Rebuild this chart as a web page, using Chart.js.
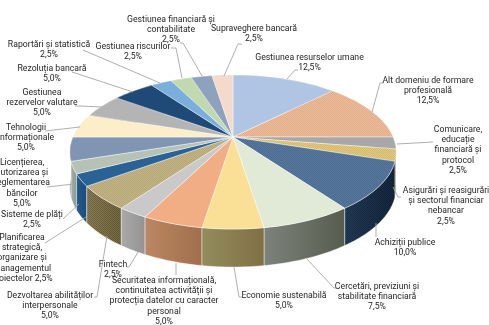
<!DOCTYPE html>
<html><head><meta charset="utf-8">
<style>html,body{margin:0;padding:0;background:#fff}canvas{display:block}</style>
<script src="https://cdn.jsdelivr.net/npm/chart.js@4"></script>
</head><body><canvas id="c" width="489" height="325"></canvas>
<script>
const categories=["Gestiunea resurselor umane","Alt domeniu de formare profesională","Comunicare, educație financiară și protocol","Asigurări și reasigurări și sectorul financiar nebancar","Achiziții publice","Cercetări, previziuni și stabilitate financiară","Economie sustenabilă","Securitatea informațională, continuitatea activității și protecția datelor cu caracter personal","Fintech","Dezvoltarea abilităților interpersonale","Planificarea strategică, organizare și managementul proiectelor","Sisteme de plăți","Licențierea, autorizarea și reglementarea băncilor","Tehnologii informaționale","Gestiunea rezervelor valutare","Rezoluția bancară","Raportări și statistică","Gestiunea riscurilor","Gestiunea financiară și contabilitate","Supraveghere bancară"];
const values=[12.5,12.5,2.5,2.5,10,7.5,5,5,2.5,5,2.5,2.5,5,5,5,5,2.5,2.5,2.5,2.5];
const topColors=["#b0c4e3","#f0bc98","#a8a8a8","#e3c97c","#55779e","#e0ead7","#fae096","#f1ae84","#c9c9c9","#c4b584","#2a6296","#b6c3b4","#7f95b3","#fbeec8","#b4b4b4","#1f4a78","#7aaedc","#c2d8ae","#8fa2bd","#f5d9cb"];
const sideLight=["#8fa0b8","#c09878","#8a8a8a","#b5a063","#223c5a","#7d837a","#938c5c","#bb8762","#a9a9a9","#8d7f55","#235a8c","#a5b0a5","#66788f","#c9bea0","#909090","#183c60","#628bb0","#9bad8b","#728197","#c4ada2"];
const sideDark=["#7c8ba0","#a88468","#757575","#9e8b55","#15273d","#565c4e","#7f7044","#a06f4c","#939393","#75693f","#1b4c7a","#8d988d","#586878","#aea484","#7c7c7c","#143252","#55779a","#869777","#637084","#aa958c"];
const patterned=[0,1,0,1,1,0,0,0,0,1,0,0,0,0,0,0,0,0,0,0];

const labelLines=[
 ["Gestiunea resurselor umane","12,5%"],["Alt domeniu de formare","profesională","12,5%"],
 ["Comunicare,","educație","financiară și","protocol","2,5%"],["Asigurări și reasigurări","și sectorul financiar","nebancar","2,5%"],
 ["Achiziții publice","10,0%"],["Cercetări, previziuni și","stabilitate financiară","7,5%"],["Economie sustenabilă","5,0%"],
 ["Securitatea informațională,","continuitatea activității și","protecția datelor cu caracter","personal","5,0%"],["Fintech","2,5%"],
 ["Dezvoltarea abilităților","interpersonale","5,0%"],["Planificarea","strategică,","organizare și","managementul","proiectelor 2,5%"],
 ["Sisteme de plăți","2,5%"],["Licențierea,","autorizarea și","reglementarea","băncilor","5,0%"],["Tehnologii","informaționale","5,0%"],
 ["Gestiunea","rezervelor valutare","5,0%"],["Rezoluția bancară","5,0%"],["Raportări și statistică","2,5%"],["Gestiunea riscurilor","2,5%"],
 ["Gestiunea financiară și","contabilitate","2,5%"],["Supraveghere bancară","2,5%"]];
// layout: label centre x, first-line centre y
const labelPos=[[309.5,57.5],[428,80.5],[458,129.5],[446,190.5],[405,242.5],[377,286.5],[284,295.5],[164,280.5],[113,264.5],[50,295.5],[22,237.5],[32,214.5],[22,162.5],[26,127.5],[42,92.5],[52,68.5],[49,44.5],[133,46.5],[171,19.5],[254,28.5]];
const leaders=[
 [[287,79],[295,70],[298,70]],[[372,112],[380,83],[383,83]],[[397,144],[433,142]],[[393,187],[398,197],[401,197]],
 [[376,223],[376,237]],[[307,259],[334,288],[336,288]],[[234,267],[239,297],[242,297]],[[176,263],[176,275]],[[138,252],[129,267],[127,267]],
 [[107,236],[97,297],[94,297]],[[86,217],[45,243]],[[79,204],[63,219]],[[74,184],[47,187]],[[80,127],[45,131]],[[102,107],[80,106],[75,106]],
 [[133,92],[72,72]],[[160,83],[83,50]],[[182,78],[176,48],[171,48]],[[202,76],[183,43],[180,43]],[[224,76],[238,44],[242,44]]];

const CX=233,CY=137,A=160,B=74.1,K=0.195,DEPTH=38;
function proj(th,depth){const u=Math.sin(th),v=-Math.cos(th),s=1-K*v;
  return [CX+A*u/s,CY+B*v/s+(depth||0)*(0.92+0.08*v)];}
function pattern(ctx,base,dark){const p=document.createElement('canvas');p.width=p.height=2;const g=p.getContext('2d');
  g.fillStyle=base;g.fillRect(0,0,2,2);g.fillStyle=dark;g.fillRect(0,0,1,1);g.fillRect(1,1,1,1);return ctx.createPattern(p,'repeat');}

const pie3d={id:'pie3d',
 beforeDatasetsDraw(chart){
  const ctx=chart.ctx,arcs=chart.getDatasetMeta(0).data;
  const items=arcs.map((a,i)=>({i,s:a.startAngle+Math.PI/2,e:a.endAngle+Math.PI/2}));
  const order=[...items].sort((p,q)=>(-Math.cos((p.s+p.e)/2))-(-Math.cos((q.s+q.e)/2)));
  ctx.save();ctx.lineJoin='round';
  for(const it of order){
    const n=Math.max(4,Math.ceil((it.e-it.s)/0.02));
    const x0=proj(it.s)[0],x1=proj(it.e)[0];
    const g=ctx.createLinearGradient(Math.min(x0,x1),0,Math.max(x0,x1)+0.01,0);
    g.addColorStop(0,sideLight[it.i]);g.addColorStop(1,sideDark[it.i]);
    ctx.beginPath();
    for(let k=0;k<=n;k++){const p=proj(it.s+(it.e-it.s)*k/n);k?ctx.lineTo(p[0],p[1]):ctx.moveTo(p[0],p[1]);}
    for(let k=n;k>=0;k--){const p=proj(it.s+(it.e-it.s)*k/n,DEPTH);ctx.lineTo(p[0],p[1]);}
    ctx.closePath();ctx.fillStyle=g;ctx.fill();
    if(patterned[it.i]){ctx.fillStyle=pattern(ctx,'rgba(0,0,0,0)','rgba(0,0,0,0.2)');ctx.fill();}
    ctx.strokeStyle='rgba(255,255,255,0.55)';ctx.lineWidth=0.8;ctx.stroke();
  }
  for(const it of items){
    const n=Math.max(4,Math.ceil((it.e-it.s)/0.02));
    ctx.beginPath();ctx.moveTo(CX,CY);
    for(let k=0;k<=n;k++){const p=proj(it.s+(it.e-it.s)*k/n);ctx.lineTo(p[0],p[1]);}
    ctx.closePath();
    ctx.fillStyle=patterned[it.i]?pattern(ctx,topColors[it.i],'rgba(0,0,0,0.08)'):topColors[it.i];
    ctx.fill();ctx.strokeStyle='rgba(255,255,255,0.6)';ctx.lineWidth=0.7;ctx.stroke();
  }
  ctx.restore();
  return false;
 },
 afterDraw(chart){
  const ctx=chart.ctx;ctx.save();
  ctx.strokeStyle='#a6a6a6';ctx.lineWidth=0.9;
  for(const l of leaders){ctx.beginPath();l.forEach((p,k)=>k?ctx.lineTo(p[0],p[1]):ctx.moveTo(p[0],p[1]));ctx.stroke();}
  ctx.font='8.7px Roboto';ctx.fillStyle='#262626';ctx.textAlign='center';ctx.textBaseline='middle';
  labelLines.forEach((ls,i)=>ls.forEach((t,j)=>ctx.fillText(t,labelPos[i][0],labelPos[i][1]+j*10.35)));
  ctx.restore();
 }};
new Chart(document.getElementById('c'),{type:'pie',
 data:{labels:categories,datasets:[{data:values,backgroundColor:topColors}]},
 options:{responsive:false,animation:false,events:[],plugins:{legend:{display:false},tooltip:{enabled:false}}},
 plugins:[pie3d]});
</script></body></html>
